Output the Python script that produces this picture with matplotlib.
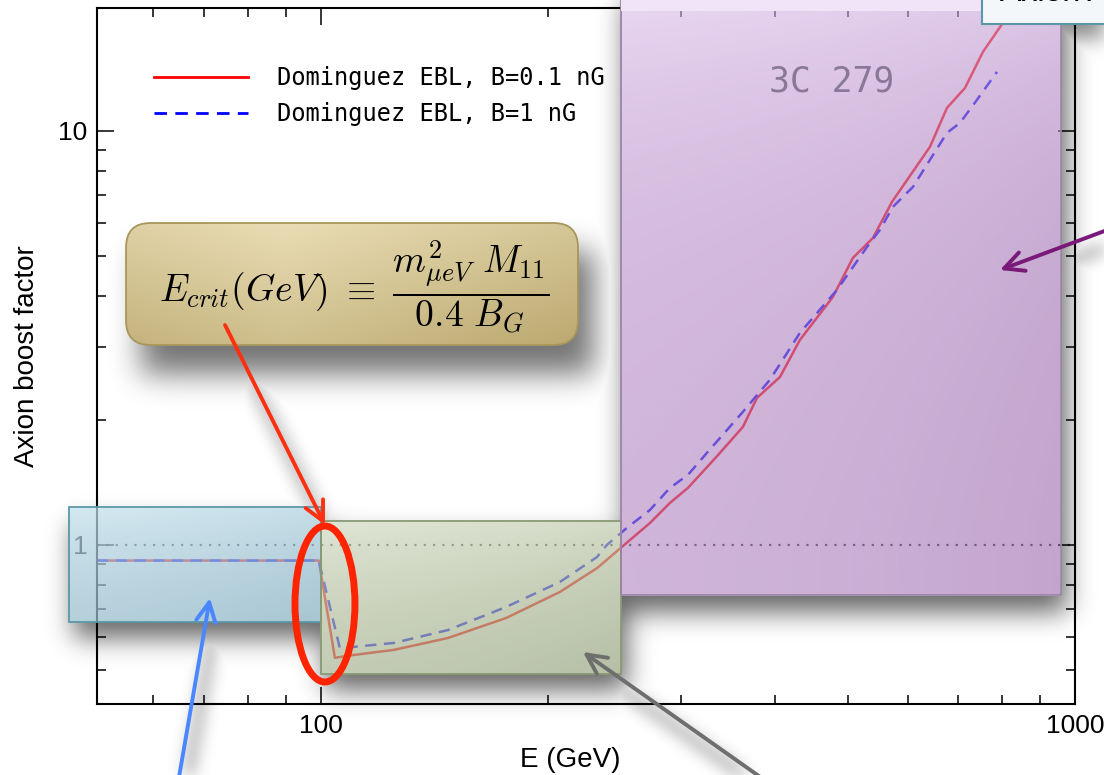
import numpy as np
import matplotlib
matplotlib.use('Agg')
import matplotlib.pyplot as plt
from matplotlib.patches import Rectangle, FancyBboxPatch, Ellipse
from matplotlib.ticker import FixedLocator, FixedFormatter, LogLocator, NullFormatter

plt.rcParams['font.family'] = ['Liberation Sans', 'DejaVu Sans']
plt.rcParams['mathtext.fontset'] = 'cm'

# axion boost factor vs energy, Dominguez EBL model
energy_b01 = [50.5, 99.4, 104.4, 110.2, 125.0, 147.4, 176.0, 207.5, 232.6, 250.7,
              273.2, 290.3, 306.7, 334.8, 362.8, 378.7, 406.3, 431.8, 477.6, 507.6,
              539.7, 571.9, 642.2, 676.5, 714.8, 755.1, 802.6, 830.0]
boost_b01 = [0.917, 0.917, 0.534, 0.542, 0.558, 0.596, 0.666, 0.770, 0.880, 0.989,
             1.130, 1.263, 1.373, 1.634, 1.928, 2.265, 2.545, 3.127, 3.973, 4.934,
             5.514, 6.736, 9.149, 11.36, 12.70, 15.52, 18.24, 21.0]

energy_b1 = [50.5, 99.4, 106.0, 125.0, 147.4, 176.0, 207.5, 232.4, 239.5, 254.5,
             273.2, 290.3, 306.7, 325.0, 362.8, 393.9, 431.8, 483.5, 529.9, 551.3,
             573.5, 609.8, 642.2, 676.5, 703.9, 741.3, 788.0]
boost_b1 = [0.917, 0.917, 0.563, 0.580, 0.623, 0.708, 0.814, 0.935, 1.0, 1.099,
            1.215, 1.373, 1.476, 1.668, 2.096, 2.504, 3.252, 4.13, 5.245, 5.767,
            6.553, 7.324, 8.511, 9.89, 10.45, 11.88, 13.88]

labels = ['Dominguez EBL, B=0.1 nG', 'Dominguez EBL, B=1 nG']
x_ticks, x_ticklabels = [100, 1000], ['100', '1000']
y_ticks, y_ticklabels = [1, 10], ['1', '10']

W, H = 1104, 775
fig = plt.figure(figsize=(W / 100, H / 100), dpi=100)
ax = fig.add_axes([97 / W, 1 - 704 / H, 978 / W, 696 / H])
ax.patch.set_visible(False)
ax.set_xscale('log')
ax.set_yscale('log')

ax.plot(energy_b01, boost_b01, color='red', lw=1.8, zorder=2, label=labels[0])
ax.plot(energy_b1, boost_b1, color='blue', lw=1.8, ls=(0, (4.5, 3)), zorder=2.1,
        label=labels[1])
ax.axhline(1, color='#3a3a3a', lw=1.6, ls=(0, (1, 3.2)), zorder=1.5)

XMIN, XMAX, YMIN, YMAX = 50.5, 1000, 0.413, 19.8
ax.set_xlim(XMIN, XMAX)
ax.set_ylim(YMIN, YMAX)

ax.xaxis.set_major_locator(FixedLocator(x_ticks))
ax.xaxis.set_major_formatter(FixedFormatter(x_ticklabels))
ax.yaxis.set_major_locator(FixedLocator(y_ticks))
ax.yaxis.set_major_formatter(FixedFormatter(y_ticklabels))
for a in (ax.xaxis, ax.yaxis):
    a.set_minor_locator(LogLocator(base=10, subs=np.arange(2, 10), numticks=20))
    a.set_minor_formatter(NullFormatter())
ax.tick_params(which='both', direction='in', top=True, right=True, width=1.1,
               labelsize=19)
ax.tick_params(which='major', length=12, pad=7)
ax.tick_params(which='minor', length=6.5)
for s in ax.spines.values():
    s.set_linewidth(1.5)

ax.set_xlabel('E (GeV)', fontsize=20)
ax.xaxis.set_label_coords(0.484, -0.062)
ax.set_ylabel('Axion boost factor', fontsize=20)
ax.yaxis.set_label_coords(-0.058, 0.5)

leg = ax.legend(loc='upper left', bbox_to_anchor=(0.058, 0.916), frameon=False,
                prop={'family': 'DejaVu Sans Mono', 'size': 17},
                handlelength=4.0, handletextpad=1.2, labelspacing=0.5,
                borderpad=0, borderaxespad=0)
for h in leg.get_lines():
    h.set_linewidth(2.0)


def shaded_box(x0, x1, y0, y1, light, dark, alpha, edge, z):
    # translucent rectangle with a soft diagonal gradient
    u = np.linspace(0, 1, 80)[None, :]
    v = np.linspace(0, 1, 60)[:, None]
    t = np.clip(0.7 * v + 0.3 * u, 0, 1)[..., None]
    rgb = (np.array(light) * (1 - t) + np.array(dark) * t) / 255.0
    rgba = np.concatenate([rgb, np.full(t.shape, alpha)], axis=2)
    im = ax.imshow(rgba, extent=(x0, x1, y0, y1), origin='upper', aspect='auto',
                   interpolation='bilinear', zorder=z, clip_on=False)
    ax.add_patch(Rectangle((x0, y0), x1 - x0, y1 - y0, facecolor='none',
                           edgecolor=edge, lw=1.3, zorder=z + 0.05, clip_on=False))
    return im


boxes = [
    (46.4, 100, 0.652, 1.235),   # low energy
    (100, 250, 0.488, 1.143),    # critical region
    (250, 957, 0.757, 24.0),     # 3C 279
]
shaded_box(*boxes[0], (195, 224, 236), (134, 176, 193), 0.72, '#5a98a8', 3)
shaded_box(*boxes[1], (210, 218, 194), (150, 164, 126), 0.69, '#889a74', 3)
shaded_box(*boxes[2], (226, 198, 242), (156, 104, 172), 0.6, '#9a84a8', 3)
# light rim along the top of the 3C 279 panel
ax.add_patch(Rectangle((250, YMAX * 0.985), 957 - 250, 5, facecolor='#f2e4f8',
                       edgecolor='none', zorder=3.1, clip_on=False))
ax.set_xlim(XMIN, XMAX)
ax.set_ylim(YMIN, YMAX)

ax.text(0.7515, 0.894, '3C 279', transform=ax.transAxes, ha='center', va='center',
        fontsize=25, family='DejaVu Sans Mono', color='#8a7898', zorder=4)

# annotation layer, in axes-fraction coordinates
ov = fig.add_axes(ax.get_position(), zorder=5)
ov.set_xlim(0, 1)
ov.set_ylim(0, 1)
ov.axis('off')

fb = FancyBboxPatch((0.0297, 0.5158), 0.4621, 0.1753,
                    boxstyle='round,pad=0,rounding_size=0.025', mutation_aspect=1.4,
                    facecolor='none', edgecolor='#a8965a', lw=1.3, zorder=6, clip_on=False)
ov.add_patch(fb)
u = np.linspace(0, 1, 80)[None, :]
v = np.linspace(0, 1, 60)[:, None]
t = np.clip(0.55 * v + 0.45 * np.abs(u - 0.35) * 1.4, 0, 1)[..., None]
grad = (np.array((233, 221, 180)) * (1 - t) + np.array((186, 167, 110)) * t) / 255.0
gi = ov.imshow(grad, extent=(0.0297, 0.4918, 0.5158, 0.6911), origin='upper',
               aspect='auto', interpolation='bilinear', zorder=5.9)
gi.set_clip_path(fb)
ov.text(0.263, 0.598,
        r'$E_{crit}(GeV)\ \equiv\ \dfrac{m^2_{\mu eV}\ M_{11}}{0.4\ B_G}$',
        ha='center', va='center', fontsize=27, zorder=7)

ov.add_patch(Ellipse((0.2331, 0.1437), 0.0613, 0.2241, facecolor='none',
                     edgecolor='#ff2400', lw=5, zorder=8, clip_on=False))

arrows = [
    ((0.1309, 0.5445), (0.2331, 0.2572), '#ff3010'),
    ((0.0808, -0.13), (0.1155, 0.1523), '#4a86ff'),
    ((0.7035, -0.13), (0.4969, 0.0747), '#6e6e6e'),
    ((1.05, 0.690), (0.9233, 0.6236), '#7a1a78'),
]
for tail, head, col in arrows:
    ov.annotate('', xy=head, xytext=tail, xycoords='data', textcoords='data',
                annotation_clip=False,
                arrowprops=dict(arrowstyle='->,head_length=0.7,head_width=0.35',
                                mutation_scale=20, color=col, lw=2.8,
                                shrinkA=0, shrinkB=0), zorder=8)

ov.add_patch(Rectangle((0.9049, 0.977), 0.2, 0.1, facecolor='#f4f7fa',
                       edgecolor='#5a98a8', lw=1.5, zorder=6, clip_on=False))
ov.text(0.9233, 1.0105, 'Axion A', ha='left', va='baseline', fontsize=23,
        zorder=7, clip_on=False)

# soft drop shadows behind the boxes and arrows
yy, xx = np.mgrid[0:H, 0:W]


def rect_mask(x0, y0, x1, y1):
    return ((xx >= x0) & (xx < x1) & (yy >= y0) & (yy < y1)).astype(float)


def line_mask(x0, y0, x1, y1, half):
    dx, dy = x1 - x0, y1 - y0
    tt = np.clip(((xx - x0) * dx + (yy - y0) * dy) / (dx * dx + dy * dy), 0, 1)
    d = np.hypot(xx - (x0 + tt * dx), yy - (y0 + tt * dy))
    return (d < half).astype(float)


def blur(img, sigma):
    r = int(3 * sigma)
    k = np.exp(-0.5 * (np.arange(-r, r + 1) / sigma) ** 2)
    k /= k.sum()
    img = np.apply_along_axis(lambda m: np.convolve(m, k, mode='same'), 0, img)
    return np.apply_along_axis(lambda m: np.convolve(m, k, mode='same'), 1, img)


def to_px(trans, x, y):
    px, py = trans.transform((x, y))
    return px, H - py


shadow = np.zeros((H, W))
solid = np.zeros((H, W))
for x0, x1, y0, y1 in boxes:
    ax0, ay1 = to_px(ax.transData, x0, y0)
    ax1, ay0 = to_px(ax.transData, x1, y1)
    solid = np.maximum(solid, rect_mask(ax0, ay0, ax1, ay1))
    shadow = np.maximum(shadow, rect_mask(ax0 + 4, ay0 + 16, ax1 + 6, ay1 + 16))
s = blur(shadow, 13) * 0.6

fx0, fy1 = to_px(ov.transData, 0.0297, 0.5158)
fx1, fy0 = to_px(ov.transData, 0.4918, 0.6911)
fmask = rect_mask(fx0 + 14, fy0 + 28, fx1 + 16, fy1 + 28)
s = np.maximum(s, blur(fmask, 15) * 0.55)
tx0, ty1 = to_px(ov.transData, 0.9049, 0.977)
s = np.maximum(s, blur(rect_mask(tx0 + 5, 0, W, ty1 + 14), 10) * 0.45)
amask = np.zeros((H, W))
for tail, head, col in arrows:
    p0 = to_px(ov.transData, *tail)
    p1 = to_px(ov.transData, *head)
    amask = np.maximum(amask, line_mask(p0[0] + 6, p0[1] + 14, p1[0] + 6, p1[1] + 14, 4))
s = np.maximum(s, blur(amask, 8) * 0.45)
s = s * (1 - solid)

rgba = np.zeros((H, W, 4))
rgba[..., 3] = s
fig.figimage(rgba, 0, 0, origin='upper', zorder=-1)

fig.savefig('out.png', dpi=100)
